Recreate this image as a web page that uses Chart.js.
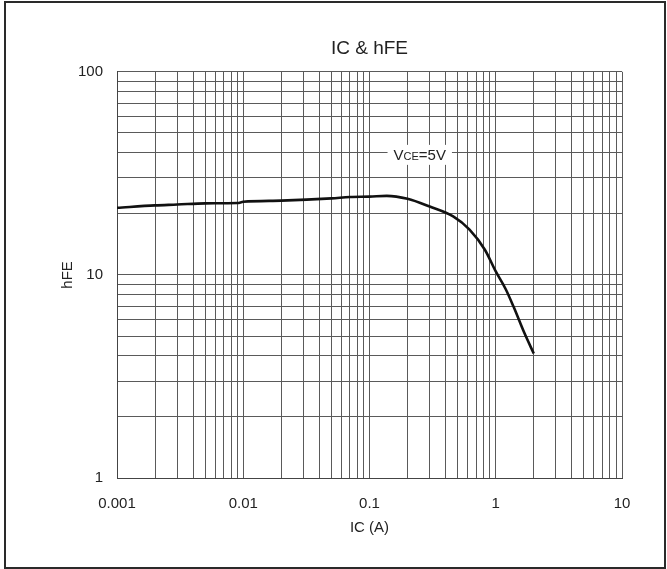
<!DOCTYPE html>
<html>
<head>
<meta charset="utf-8">
<script src="https://cdn.jsdelivr.net/npm/chart.js@4/dist/chart.umd.min.js"></script>
<style>
  html, body { margin: 0; padding: 0; background: #fff; }
  #wrap { position: relative; width: 667px; height: 569px; }
  #frame {
    position: absolute; left: 4px; top: 1px; width: 658px; height: 564px;
    border: 2px solid #2a2a2a; pointer-events: none;
  }
</style>
</head>
<body>
<div id="wrap">
  <canvas id="chart" width="667" height="569"></canvas>
  <div id="frame"></div>
</div>
<script>
// ── Data ──────────────────────────────────────────────────────
const icValues  = [0.001, 0.002, 0.003, 0.005, 0.009, 0.01, 0.02, 0.05, 0.07, 0.1, 0.137,
                   0.2, 0.3, 0.46, 0.62, 0.82, 1.0, 1.2, 1.38, 1.68, 2.0];
const hfeValues = [21.4, 22.0, 22.2, 22.5, 22.6, 22.9, 23.2, 23.8, 24.2, 24.3, 24.5,
                   23.7, 21.7, 19.4, 16.7, 13.3, 10.4, 8.5, 7.0, 5.2, 4.1];

const xDecades = [0.001, 0.01, 0.1, 1, 10];
const yDecades = [1, 10, 100];
const xLabels  = ['0.001', '0.01', '0.1', '1', '10'];
const yLabels  = ['1', '10', '100'];

const FONT = "'Liberation Sans', Arial, sans-serif";

// decade + 2..9 minor lines
function logTicks(decades) {
  const out = [];
  decades.forEach((d, i) => {
    out.push({ value: d });
    if (i < decades.length - 1) {
      for (let k = 2; k <= 9; k++) out.push({ value: +(d * k).toPrecision(6) });
    }
  });
  return out;
}

function labelFor(decades, labels) {
  return (v) => {
    const i = decades.findIndex(d => Math.abs(d - v) / d < 1e-6);
    return i >= 0 ? labels[i] : '';
  };
}

// ── Annotation "VCE=5V" ───────────────────────────────────────
const noteAt = { x: 0.25, y: 39 };

const notePlugin = {
  id: 'note',
  afterDatasetsDraw(chart) {
    const { ctx, scales } = chart;
    const cx = scales.x.getPixelForValue(noteAt.x);
    const cy = scales.y.getPixelForValue(noteAt.y);
    ctx.save();
    ctx.textBaseline = 'alphabetic';
    const big = `15px ${FONT}`, small = `11px ${FONT}`;
    ctx.font = big;  const w1 = ctx.measureText('V').width;
    ctx.font = small; const w2 = ctx.measureText('CE').width;
    ctx.font = big;  const w3 = ctx.measureText('=5V').width;
    const total = w1 + w2 + w3;
    let x = cx - total / 2;
    const base = cy + 5;
    ctx.fillStyle = '#fff';
    ctx.fillRect(x - 6, cy - 10, total + 12, 20);
    ctx.fillStyle = '#222';
    ctx.font = big;   ctx.fillText('V', x, base);   x += w1;
    ctx.font = small; ctx.fillText('CE', x, base);  x += w2;
    ctx.font = big;   ctx.fillText('=5V', x, base);
    ctx.restore();
  }
};

// ── Chart ─────────────────────────────────────────────────────
new Chart(document.getElementById('chart'), {
  type: 'line',
  data: {
    datasets: [{
      data: icValues.map((x, i) => ({ x, y: hfeValues[i] })),
      borderColor: '#111',
      borderWidth: 2.6,
      pointRadius: 0,
      cubicInterpolationMode: 'monotone',
      fill: false,
    }],
  },
  options: {
    responsive: false,
    animation: false,
    layout: { padding: { left: 0, right: 45, top: 0, bottom: 0 } },
    plugins: {
      legend: { display: false },
      tooltip: { enabled: false },
      title: {
        display: true,
        fullSize: false,
        text: 'IC & hFE',
        color: '#222',
        font: { family: FONT, size: 19, weight: 'normal' },
        padding: { top: 37, bottom: 12 },
      },
    },
    scales: {
      x: {
        type: 'logarithmic',
        min: 0.001, max: 10,
        afterBuildTicks: (s) => { s.ticks = logTicks(xDecades); },
        afterFit: (s) => { s.height = 91; },
        grid: { color: '#5a5a5a', lineWidth: 1, drawTicks: false },
        border: { color: '#444', width: 1 },
        ticks: {
          autoSkip: false, maxRotation: 0, padding: 17,
          color: '#222', font: { family: FONT, size: 15 },
          callback: labelFor(xDecades, xLabels),
        },
        title: {
          display: true, text: 'IC (A)', color: '#222',
          font: { family: FONT, size: 15 },
          padding: { top: 0, bottom: 32 },
        },
      },
      y: {
        type: 'logarithmic',
        min: 1, max: 100,
        afterBuildTicks: (s) => { s.ticks = logTicks(yDecades); },
        afterFit: (s) => { s.width = 117; },
        grid: { color: '#5a5a5a', lineWidth: 1, drawTicks: false },
        border: { color: '#444', width: 1 },
        ticks: {
          autoSkip: false, padding: 14,
          color: '#222', font: { family: FONT, size: 15 },
          callback: labelFor(yDecades, yLabels),
        },
        title: {
          display: true, text: 'hFE', color: '#222',
          font: { family: FONT, size: 15 },
          padding: { top: 59, bottom: 0 },
        },
      },
    },
  },
  plugins: [notePlugin],
});
</script>
</body>
</html>
